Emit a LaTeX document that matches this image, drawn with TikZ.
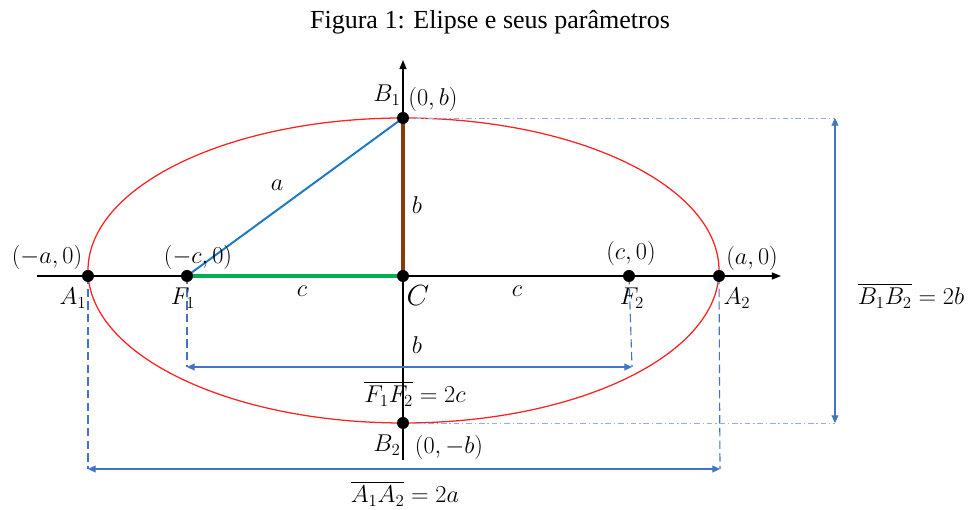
\documentclass[tikz,border=0pt]{standalone}
\usepackage{amsmath, amssymb}
\usepackage{fontspec}
\setmainfont{Liberation Serif}
\usepackage{tikz}
\usetikzlibrary{arrows.meta}
\definecolor{elred}{RGB}{250,35,35}
\definecolor{segblue}{RGB}{30,120,200}
\definecolor{segbrown}{RGB}{132,60,12}
\definecolor{seggreen}{RGB}{0,176,80}
\definecolor{dimblue}{RGB}{68,114,196}
\definecolor{guideblue}{RGB}{150,175,225}

\begin{document}
\begin{tikzpicture}[x=0.025cm, y=0.025cm,
  lbl/.style={font=\fontsize{17}{19}\selectfont},
  axisline/.style={line width=0.9pt, -{Triangle[length=6.5pt,width=5pt]}},
  dimline/.style={dimblue, line width=0.8pt, {Triangle[length=5.5pt,width=5pt]}-{Triangle[length=5.5pt,width=5pt]}},
  guide/.style={dimblue, line width=0.8pt, dash pattern=on 6pt off 3pt},
  guidedot/.style={guideblue, line width=0.6pt, dash pattern=on 4pt off 2pt on 1pt off 2pt}]
  \useasboundingbox (-403,-234) rectangle (577,276);
  \node[font=\fontsize{18.5}{20}\selectfont] (title) at (87,254) {Figura 1: Elipse e seus parâmetros};

  % points
  \coordinate (C) at (0,0);
  \coordinate (A1) at (-315,0);
  \coordinate (F1) at (-216,0);
  \coordinate (F2) at (226,0);
  \coordinate (A2) at (316,0);
  \coordinate (B1) at (0,158);
  \coordinate (B2) at (0,-147);
  \coordinate (xl) at (-366,0);
  \coordinate (xr) at (378,0);
  \coordinate (yb) at (0,-184);
  \coordinate (yt) at (0,216);

  % dimension ends
  \coordinate (f1d) at (-216,-91);
  \coordinate (f2d) at (229,-91);
  \coordinate (a1d) at (-315,-193);
  \coordinate (a2d) at (317,-193);
  \coordinate (b1d) at (432,158);
  \coordinate (b2d) at (432,-147);

  \draw[elred, line width=0.9pt] (0.5,5.5) ellipse [x radius=315.5, y radius=152.5];
  \draw[axisline] (xl) -- (xr);
  \draw[axisline] (yb) -- (yt);

  \draw[guide] (F1) -- (f1d);
  \draw[guide] (F2) -- (f2d);
  \draw[guide] (A1) -- (a1d);
  \draw[guide] (A2) -- (a2d);
  \draw[guidedot] (B1) -- (b1d);
  \draw[guidedot] (B2) -- (b2d);
  \draw[dimline] (f1d) -- (f2d);
  \draw[dimline] (a1d) -- (a2d);
  \draw[dimline] (b1d) -- (b2d);

  \draw[segblue, line width=1.4pt] (F1) -- (B1);
  \draw[segbrown, line width=2.6pt] (B1) -- (C);
  \draw[seggreen, line width=2.8pt] (F1) -- (C);

  \foreach \p in {A1,F1,C,F2,A2,B1,B2}
    \fill (\p) circle (6);

  \node[lbl] (lA1) at (-356,19) {$(-a,0)$};
  \node[lbl] (nA1) at (-330,-22) {$A_1$};
  \node[lbl] (lF1) at (-205,19) {$(-c,0)$};
  \node[lbl] (nF1) at (-220,-22) {$F_1$};
  \node[lbl] (la) at (-126,91) {$a$};
  \node[lbl] (lb1) at (14,71) {$b$};
  \node[lbl] (lc1) at (-101,-15) {$c$};
  \node[font=\fontsize{21}{23}\selectfont] (nC) at (15,-20) {$C$};
  \node[lbl] (lc2) at (114,-15) {$c$};
  \node[lbl] (lF2) at (228,23) {$(c,0)$};
  \node[lbl] (nF2) at (229,-22) {$F_2$};
  \node[lbl] (lA2) at (349,18) {$(a,0)$};
  \node[lbl] (nA2) at (334,-22) {$A_2$};
  \node[lbl] (nB1) at (-16,181) {$B_1$};
  \node[lbl] (lB1) at (30,177) {$(0,b)$};
  \node[lbl] (nB2) at (-16,-169) {$B_2$};
  \node[lbl] (lB2) at (46,-171) {$(0,-b)$};
  \node[lbl] (lb2) at (14,-69) {$b$};
  \node[lbl] (dF) at (12,-118) {$\overline{F_1F_2}=2c$};
  \node[lbl] (dA) at (2,-218) {$\overline{A_1A_2}=2a$};
  \node[lbl] (dB) at (508,-20) {$\overline{B_1B_2}=2b$};
\end{tikzpicture}
\end{document}
